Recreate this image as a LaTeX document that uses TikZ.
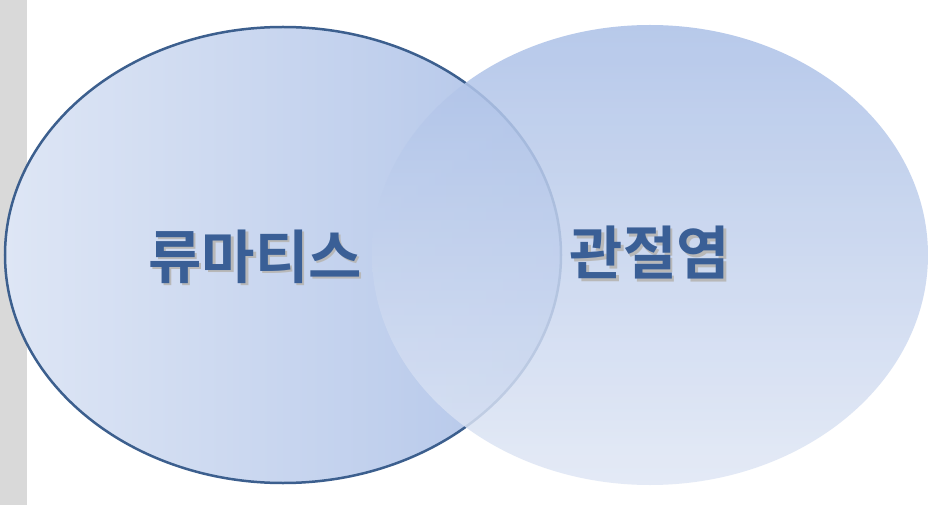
\documentclass[tikz,border=0pt]{standalone}
\usepackage{fontspec}
\newfontfamily\kr{Noto Sans CJK KR}[BoldFont={Noto Sans CJK KR Bold}]
\definecolor{strip}{HTML}{D9D9D9}
\definecolor{outl}{HTML}{3C5F8E}
\definecolor{lA}{HTML}{DEE6F5}
\definecolor{lB}{HTML}{B2C5E9}
\definecolor{rA}{HTML}{ABC0E7}
\definecolor{rB}{HTML}{E0E7F5}
\definecolor{txt}{HTML}{3A5F96}
\newcommand{\shtext}[1]{\rlap{\hspace{2.5pt}\raisebox{-2.5pt}{\color{black!28}#1}}#1}
\tikzset{
  lbl/.style={font=\kr\bfseries\fontsize{58}{64}\selectfont, text=txt, inner sep=0pt}
}
\begin{document}
\begin{tikzpicture}[x=1pt,y=-1pt]
\useasboundingbox (0,0) rectangle (945,505);
\fill[white] (0,0) rectangle (945,505);
\fill[strip] (0,0) rectangle (27,505);
\shade[left color=lA, right color=lB] (283,255) ellipse [x radius=278, y radius=228];
\draw[outl, line width=2.5pt] (283,255) ellipse [x radius=278, y radius=228];
\shade[top color=rA, bottom color=rB, opacity=0.85] (650,255) ellipse [x radius=278, y radius=230];
\node[lbl] (a) at (255,258) {\shtext{류마티스}};
\node[lbl] (b) at (650,254) {\shtext{관절염}};
\end{tikzpicture}
\end{document}
